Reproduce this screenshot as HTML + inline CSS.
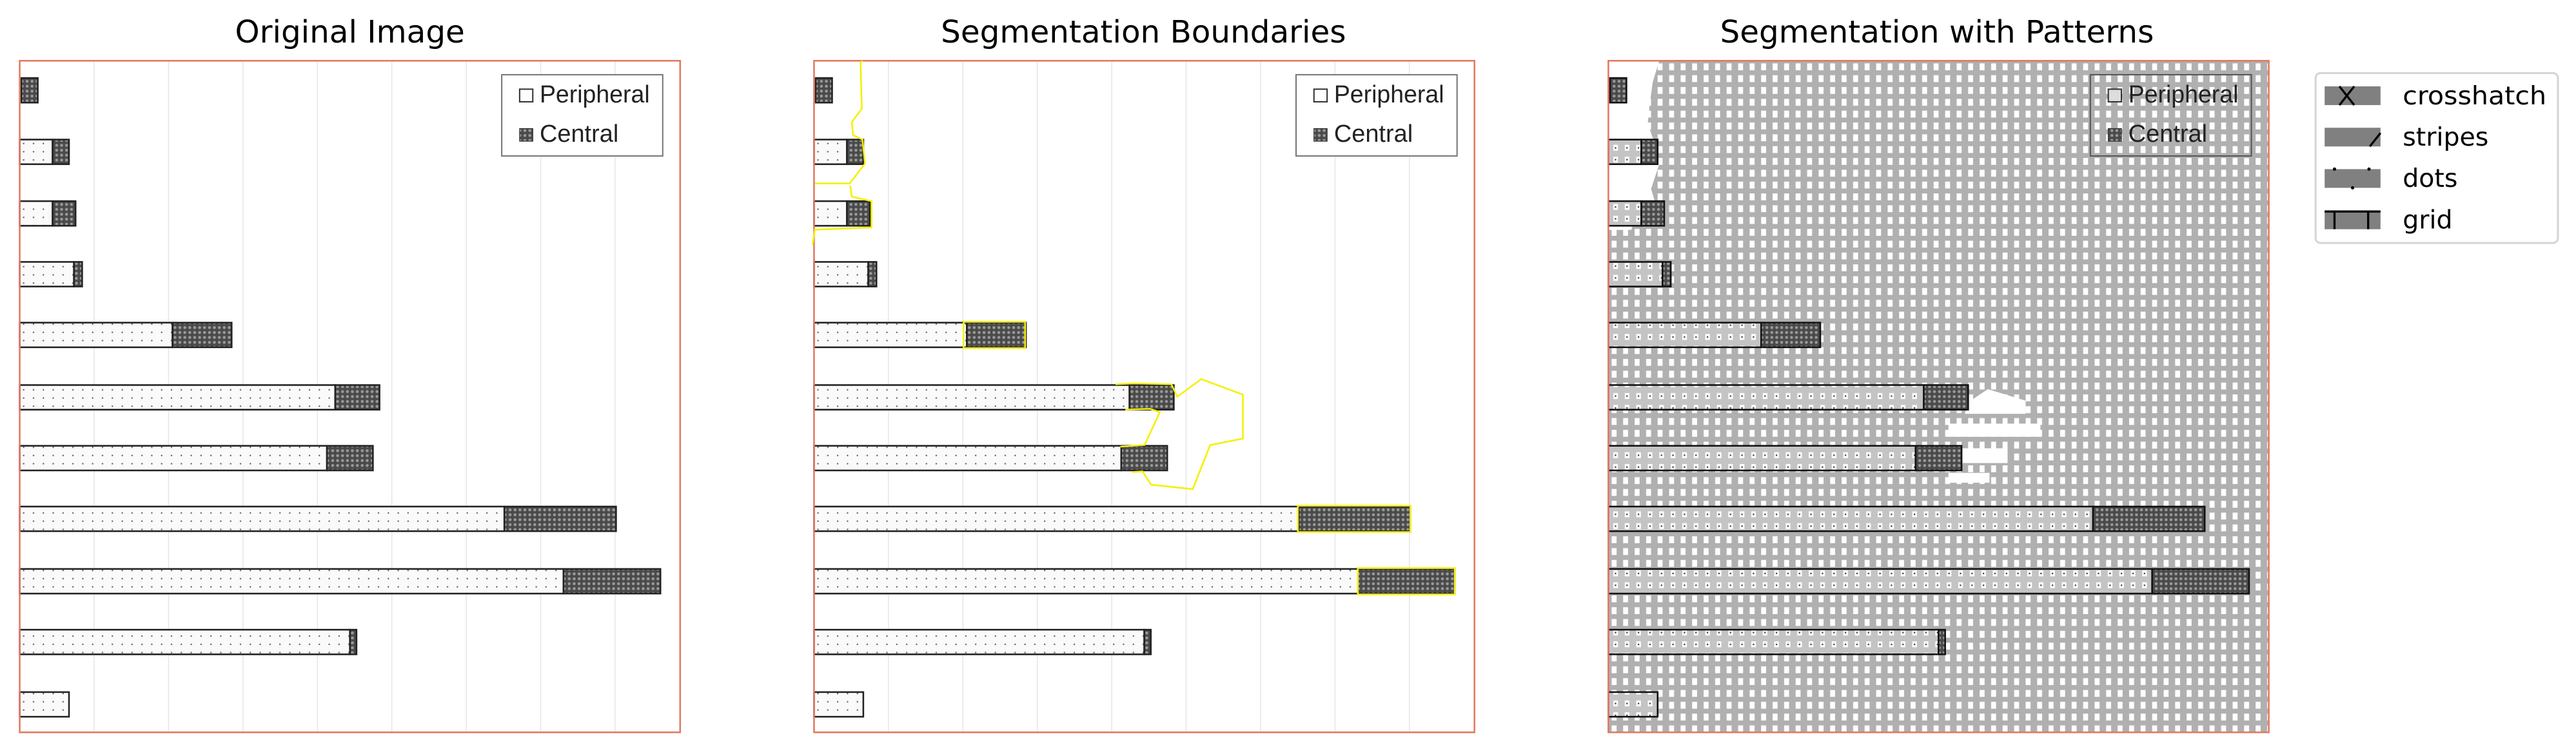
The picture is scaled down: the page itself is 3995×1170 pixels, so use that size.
<!DOCTYPE html>
<html><head><meta charset="utf-8"><style>html,body{margin:0;padding:0;background:#fff}svg{display:block}</style></head>
<body>
<svg xmlns="http://www.w3.org/2000/svg" width="3995" height="1170" viewBox="0 0 1568 459.2" preserveAspectRatio="none">
<defs>
<pattern id="dots" width="6" height="5" patternUnits="userSpaceOnUse">
<rect width="6" height="5" fill="#fafafa"/><rect x="2" y="2" width="0.8" height="0.8" fill="#555"/>
</pattern>
<pattern id="dotsg" width="7" height="7.2" patternUnits="userSpaceOnUse">
<rect width="7" height="7.2" fill="#c4c4c4"/><rect x="2" y="1.8" width="2.8" height="3.6" fill="#fff"/><rect x="2.9" y="3.2" width="0.9" height="0.9" fill="#444"/>
</pattern>
<pattern id="cross" width="3" height="3" patternUnits="userSpaceOnUse">
<rect width="3" height="3" fill="#4a4a4a"/><circle cx="1.5" cy="1.5" r="0.9" fill="#999"/>
</pattern>
<pattern id="bg3" x="979" y="37" width="7" height="7.2" patternUnits="userSpaceOnUse">
<rect width="7" height="7.2" fill="#b0b0b0"/><rect x="2" y="1.6" width="3" height="4.2" fill="#fff"/>
</pattern>
</defs>

<g font-family="DejaVu Sans, sans-serif" font-size="19" text-anchor="middle" fill="#000">
<text x="213" y="26">Original Image</text>
<text x="696" y="26">Segmentation Boundaries</text>
<text x="1179" y="26">Segmentation with Patterns</text>
</g>

<g id="p1">
<rect x="12" y="37" width="402" height="409" fill="#fff"/>
<g stroke="#e6e6e6" stroke-width="0.6">
<line x1="57.3" y1="37" x2="57.3" y2="446"/><line x1="102.6" y1="37" x2="102.6" y2="446"/><line x1="147.9" y1="37" x2="147.9" y2="446"/><line x1="193.2" y1="37" x2="193.2" y2="446"/><line x1="238.5" y1="37" x2="238.5" y2="446"/><line x1="283.8" y1="37" x2="283.8" y2="446"/><line x1="329.1" y1="37" x2="329.1" y2="446"/><line x1="374.4" y1="37" x2="374.4" y2="446"/>
</g>
<g stroke="#222" stroke-width="1">
<rect x="13" y="47.5" width="10" height="15" fill="url(#cross)"/>
<rect x="12" y="85" width="20" height="15" fill="url(#dots)"/><rect x="32" y="85" width="10" height="15" fill="url(#cross)"/>
<rect x="12" y="122.5" width="20" height="15" fill="url(#dots)"/><rect x="32" y="122.5" width="14" height="15" fill="url(#cross)"/>
<rect x="12" y="159.5" width="33" height="15" fill="url(#dots)"/><rect x="45" y="159.5" width="5" height="15" fill="url(#cross)"/>
<rect x="12" y="196.5" width="93" height="15" fill="url(#dots)"/><rect x="105" y="196.5" width="36" height="15" fill="url(#cross)"/>
<rect x="12" y="234.5" width="192" height="15" fill="url(#dots)"/><rect x="204" y="234.5" width="27" height="15" fill="url(#cross)"/>
<rect x="12" y="271.5" width="187" height="15" fill="url(#dots)"/><rect x="199" y="271.5" width="28" height="15" fill="url(#cross)"/>
<rect x="12" y="308.5" width="295" height="15" fill="url(#dots)"/><rect x="307" y="308.5" width="68" height="15" fill="url(#cross)"/>
<rect x="12" y="346.5" width="331" height="15" fill="url(#dots)"/><rect x="343" y="346.5" width="59" height="15" fill="url(#cross)"/>
<rect x="12" y="383.5" width="201" height="15" fill="url(#dots)"/><rect x="213" y="383.5" width="4" height="15" fill="url(#cross)"/>
<rect x="12" y="421.5" width="30" height="15" fill="url(#dots)"/>
</g>
<rect x="305.4" y="45.5" width="98" height="49.5" fill="#fff" stroke="#777" stroke-width="0.8"/>
<rect x="316.3" y="54.3" width="8" height="7.7" fill="#fff" stroke="#333" stroke-width="0.8"/>
<rect x="316.3" y="78.3" width="8" height="7.7" fill="url(#cross)" stroke="#333" stroke-width="0.5"/>
<g font-family="Liberation Sans, sans-serif" font-size="15" fill="#222">
<text x="328.5" y="62.4" textLength="67" lengthAdjust="spacingAndGlyphs">Peripheral</text>
<text x="328.5" y="86.4" textLength="48" lengthAdjust="spacingAndGlyphs">Central</text>
</g>
<rect x="12" y="37" width="402" height="409" fill="none" stroke="#e07a60" stroke-width="1"/>
</g>

<use href="#p1" transform="translate(483.5,0)"/>
<g fill="none" stroke="#f5f000" stroke-width="1">
<polyline points="525,37 523.8,38.1 524.6,66.2 518.5,74.3 519.3,82.3 525,85 526.5,99.7 517.2,111.7 496,111.7"/>
<polyline points="517.5,113 518.5,119.8 530.5,122.5 530.5,138.5 496,139.9 494.6,149.2"/>
<rect x="586.5" y="196" width="37.5" height="16"/>
<polyline points="679,234 690,233.5 713,234 716.6,241.6 731.2,230.9 756.5,240.3 756.5,267.1 736.6,271.1 726,297.9 700.7,295.2 695.4,287.1 689,287.5"/>
<polyline points="685,249.5 700,249 706,251 696.7,271 682,272"/>
<rect x="790" y="308" width="68.5" height="16"/>
<rect x="826.5" y="346" width="59" height="16"/>
</g>

<g>
<rect x="979" y="37" width="402" height="409" fill="url(#bg3)"/>
<polygon points="979,37 1010,37 1006,50 1004,65 1003,75 1008,90 1010,100 1005,115 1008,125 996,130 993,140 979,140" fill="#fff"/>
<g fill="#fff">
<polygon points="1198,245 1210,237 1233,244 1233,252 1196,252"/>
<rect x="1186" y="258" width="56" height="8"/>
<rect x="1184" y="273" width="38" height="9"/>
<rect x="1186" y="288" width="25" height="6"/>
</g>
<g stroke="#111" stroke-width="1">
<rect x="980" y="47.5" width="10" height="15" fill="url(#cross)"/>
<rect x="979" y="85" width="20" height="15" fill="url(#dotsg)"/><rect x="999" y="85" width="10" height="15" fill="url(#cross)"/>
<rect x="979" y="122.5" width="20" height="15" fill="url(#dotsg)"/><rect x="999" y="122.5" width="14" height="15" fill="url(#cross)"/>
<rect x="979" y="159.5" width="33" height="15" fill="url(#dotsg)"/><rect x="1012" y="159.5" width="5" height="15" fill="url(#cross)"/>
<rect x="979" y="196.5" width="93" height="15" fill="url(#dotsg)"/><rect x="1072" y="196.5" width="36" height="15" fill="url(#cross)"/>
<rect x="979" y="234.5" width="192" height="15" fill="url(#dotsg)"/><rect x="1171" y="234.5" width="27" height="15" fill="url(#cross)"/>
<rect x="979" y="271.5" width="187" height="15" fill="url(#dotsg)"/><rect x="1166" y="271.5" width="28" height="15" fill="url(#cross)"/>
<rect x="979" y="308.5" width="295" height="15" fill="url(#dotsg)"/><rect x="1274" y="308.5" width="68" height="15" fill="url(#cross)"/>
<rect x="979" y="346.5" width="331" height="15" fill="url(#dotsg)"/><rect x="1310" y="346.5" width="59" height="15" fill="url(#cross)"/>
<rect x="979" y="383.5" width="201" height="15" fill="url(#dotsg)"/><rect x="1180" y="383.5" width="4" height="15" fill="url(#cross)"/>
<rect x="979" y="421.5" width="30" height="15" fill="url(#dotsg)"/>
</g>
<rect x="1272.4" y="45.5" width="98" height="49.5" fill="none" stroke="#555" stroke-width="0.8"/>
<rect x="1283.3" y="54.3" width="8" height="7.7" fill="#ddd" stroke="#333" stroke-width="0.8"/>
<rect x="1283.3" y="78.3" width="8" height="7.7" fill="url(#cross)" stroke="#333" stroke-width="0.5"/>
<g font-family="Liberation Sans, sans-serif" font-size="15" fill="#222">
<text x="1295.5" y="62.4" textLength="67" lengthAdjust="spacingAndGlyphs">Peripheral</text>
<text x="1295.5" y="86.4" textLength="48" lengthAdjust="spacingAndGlyphs">Central</text>
</g>
<rect x="979" y="37" width="402" height="409" fill="none" stroke="#e07a60" stroke-width="1"/>
</g>

<rect x="1409.5" y="44.5" width="147.5" height="103.5" rx="3" fill="#fff" stroke="#d5d5d5" stroke-width="1.2"/>
<g fill="#808080">
<rect x="1415" y="52.6" width="34" height="11.4"/>
<rect x="1415" y="77.8" width="34" height="11.4"/>
<rect x="1415" y="103" width="34" height="11.4"/>
<rect x="1415" y="128.2" width="34" height="11.4"/>
</g>
<g stroke="#000" stroke-width="1.3" fill="none">
<line x1="1424" y1="52.6" x2="1433" y2="64"/><line x1="1433" y1="52.6" x2="1424" y2="64"/>
<line x1="1442.5" y1="89.2" x2="1449" y2="81"/>
<line x1="1415" y1="128.8" x2="1449" y2="128.8"/><line x1="1421" y1="128.8" x2="1421" y2="139.6"/><line x1="1441.5" y1="128.8" x2="1441.5" y2="139.6"/>
</g>
<g fill="#000"><circle cx="1421" cy="103" r="1"/><circle cx="1442" cy="103" r="1"/><circle cx="1432" cy="114.4" r="1"/></g>
<g font-family="DejaVu Sans, sans-serif" font-size="15.5" fill="#000">
<text x="1462.5" y="63.5" textLength="87.5" lengthAdjust="spacingAndGlyphs">crosshatch</text>
<text x="1462.5" y="88.7">stripes</text>
<text x="1462.5" y="113.9">dots</text>
<text x="1462.5" y="139.1">grid</text>
</g>
</svg>
</body></html>
